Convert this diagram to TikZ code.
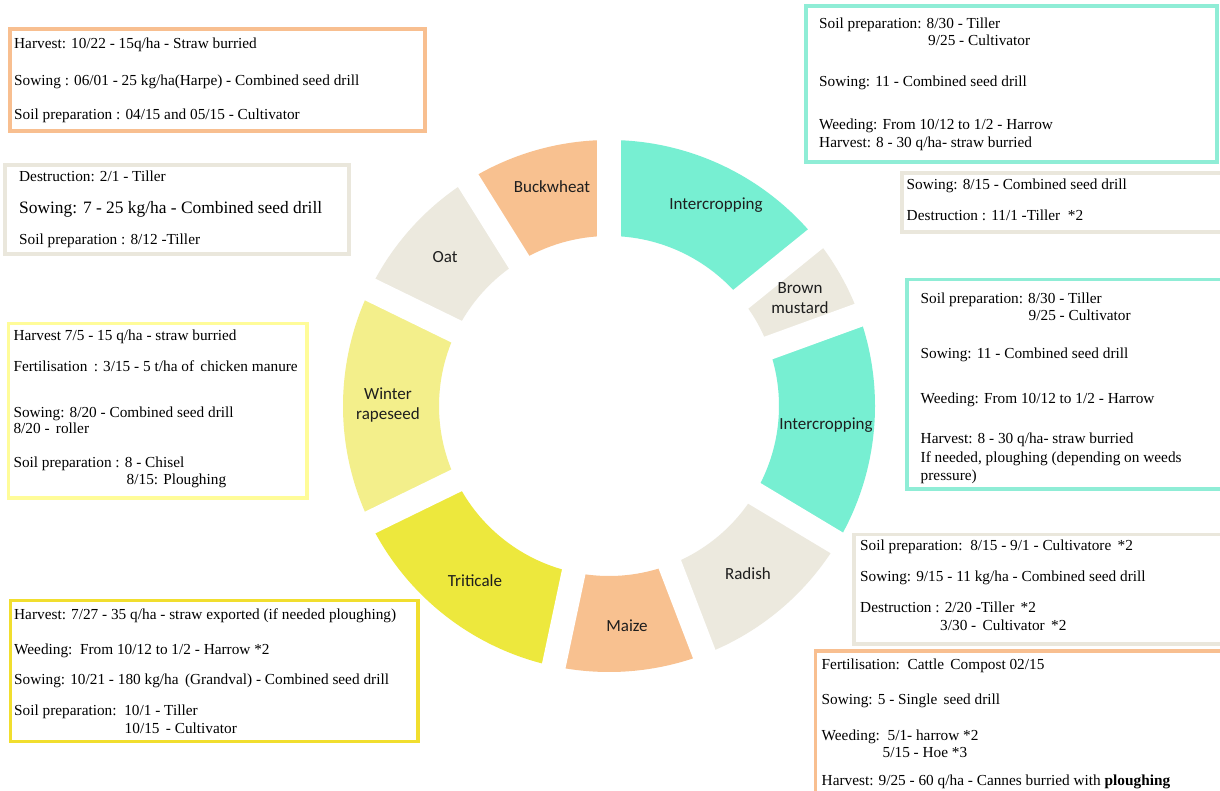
\documentclass[tikz,border=0pt]{standalone}
\usepackage{fontspec}
\setmainfont{Liberation Serif}
\newfontfamily\labelfont{Carlito}
\usetikzlibrary{calc}

% ring fills
\definecolor{ringTurq}{HTML}{77EFD2}
\definecolor{ringOrange}{HTML}{F8C190}
\definecolor{ringBeige}{HTML}{ECE9DE}
\definecolor{ringPale}{HTML}{F3EF8B}
\definecolor{ringYellow}{HTML}{EDE83D}
% box frames
\definecolor{frameOrange}{HTML}{F8BF90}
\definecolor{frameBeige}{HTML}{EAE7DC}
\definecolor{frameTurq}{HTML}{8FEDD6}
\definecolor{framePale}{HTML}{FFFC99}
\definecolor{frameYellow}{HTML}{F1DE2E}
\definecolor{labelInk}{HTML}{1E1E1E}

% one piece of the ring between two angles
\newcommand\ringpart[3]{%
  \fill[#3] ($(c)+(#1:266)$) arc[start angle=#1,end angle=#2,radius=266]
    -- ($(c)+(#2:170)$) arc[start angle=#2,end angle=#1,radius=170] -- cycle;}

\tikzset{
  seglabel/.style={font=\labelfont\fontsize{17}{20.5}\selectfont, text=labelInk, align=center, inner sep=0},
  info/.style={font=\fontsize{15.3}{18}\selectfont, anchor=base west, inner sep=0, text=black},
  infobig/.style={info, font=\fontsize{17.4}{20}\selectfont},
  infobox/.style={line width=3.2, fill=white},
}

\begin{document}
\begin{tikzpicture}[x=1pt,y=1pt]
\useasboundingbox (0,0) rectangle (1220,-791);
\clip (0,0) rectangle (1220,-791);
\fill[white] (0,0) rectangle (1220,-791);

% ---- crop rotation ring ----
\coordinate (c) at (609,-406);
\ringpart{39}{90}{ringTurq}
\ringpart{20}{39}{ringBeige}
\ringpart{-31}{20}{ringTurq}
\ringpart{-69}{-31}{ringBeige}
\ringpart{-102}{-69}{ringOrange}
\ringpart{-154}{-102}{ringYellow}
\ringpart{154}{206}{ringPale}
\ringpart{122}{154}{ringBeige}
\ringpart{90}{122}{ringOrange}
\foreach \a in {90,39,20,-31,-69,-102,-154,154,122}
  \draw[white, line width=24] (c) -- ++(\a:300);

\node[seglabel] (lbuck) at (552,-187) {Buckwheat};
\node[seglabel] (lint1) at (716,-205) {Intercropping};
\node[seglabel] (loat) at (445,-257) {Oat};
\node[seglabel] (lmust) at (800,-298) {Brown\\mustard};
\node[seglabel] (lint2) at (826,-425) {Intercropping};
\node[seglabel] (lrape) at (388,-405) {Winter\\rapeseed};
\node[seglabel] (ltrit) at (475,-581) {Triticale};
\node[seglabel] (lmaize) at (627,-626) {Maize};
\node[seglabel] (lrad) at (748,-574) {Radish};

% ---- Buckwheat ----
\draw[infobox, draw=frameOrange] (10,-29) rectangle (425,-131);
\node[info] (bkA) at (14,-48.3) {Harvest: 10/22 - 15q/ha - Straw burried};
\node[info] (bkB) at (14,-86) {Sowing : 06/01 - 25 kg/ha(Harpe) - Combined seed drill};
\node[info] (bkC) at (14,-120) {Soil preparation : 04/15 and 05/15 - Cultivator};

% ---- Oat ----
\draw[infobox, draw=frameBeige] (5,-165) rectangle (349,-254);
\node[info] (oaA) at (19,-181.7) {Destruction: 2/1 - Tiller};
\node[infobig] (oaB) at (19,-214) {Sowing: 7 - 25 kg/ha - Combined seed drill};
\node[info] (oaC) at (19,-245) {Soil preparation : 8/12 -Tiller};

% ---- Intercropping (top) ----
\draw[infobox, draw=frameTurq] (806,-6) rectangle (1217,-162);
\node[info] (i1A) at (819,-28.3) {Soil preparation: 8/30 - Tiller};
\node[info] (i1B) at (928,-45.7) {9/25 - Cultivator};
\node[info] (i1C) at (819,-86.7) {Sowing: 11 - Combined seed drill};
\node[info] (i1D) at (819,-130) {Weeding: From 10/12 to 1/2 - Harrow};
\node[info] (i1E) at (819,-147.7) {Harvest: 8 - 30 q/ha- straw burried};

% ---- Brown mustard ----
\draw[infobox, draw=frameBeige] (902,-173) rectangle (1230,-232);
\node[info] (muA) at (906.5,-189.3) {Sowing: 8/15 - Combined seed drill};
\node[info] (muB) at (906.5,-221) {Destruction : 11/1 -Tiller \ *2};

% ---- Intercropping (right) ----
\draw[infobox, draw=frameTurq] (907,-279.5) rectangle (1230,-489);
\node[info] (i2A) at (920.5,-303.5) {Soil preparation: 8/30 - Tiller};
\node[info] (i2B) at (1028.5,-320.5) {9/25 - Cultivator};
\node[info] (i2C) at (920.5,-358.5) {Sowing: 11 - Combined seed drill};
\node[info] (i2D) at (920.5,-403) {Weeding: From 10/12 to 1/2 - Harrow};
\node[info] (i2E) at (920.5,-443.5) {Harvest: 8 - 30 q/ha- straw burried};
\node[info] (i2F) at (920.5,-462) {If needed, ploughing (depending on weeds};
\node[info] (i2G) at (920.5,-480.5) {pressure)};

% ---- Winter rapeseed ----
\draw[infobox, draw=framePale] (8.5,-323.5) rectangle (307,-498);
\node[info] (rpA) at (13.3,-340.7) {Harvest 7/5 - 15 q/ha - straw burried};
\node[info] (rpB) at (13.3,-371.7) {Fertilisation \,: 3/15 - 5 t/ha of \,chicken manure};
\node[info] (rpC) at (13.3,-417.3) {Sowing: 8/20 - Combined seed drill};
\node[info] (rpD) at (13.3,-433.3) {8/20 - \,roller};
\node[info] (rpE) at (13.3,-467.3) {Soil preparation : 8 - Chisel};
\node[info] (rpF) at (126.5,-484.3) {8/15: Ploughing};

% ---- Triticale ----
\draw[infobox, draw=frameYellow] (10.5,-600.5) rectangle (418,-741.5);
\node[info] (trA) at (14,-619) {Harvest: 7/27 - 35 q/ha - straw exported (if needed ploughing)};
\node[info] (trB) at (14,-654.5) {Weeding: \,From 10/12 to 1/2 - Harrow *2};
\node[info] (trC) at (14,-684) {Sowing: 10/21 - 180 kg/ha \,(Grandval) - Combined seed drill};
\node[info] (trD) at (14,-715) {Soil preparation: \,10/1 - Tiller};
\node[info] (trE) at (124.5,-733.3) {10/15 \,- Cultivator};

% ---- Radish ----
\draw[infobox, draw=frameBeige] (854,-534.5) rectangle (1230,-644);
\node[info] (raA) at (860,-550) {Soil preparation: \,8/15 - 9/1 - Cultivatore \,*2};
\node[info] (raB) at (860,-581) {Sowing: 9/15 - 11 kg/ha - Combined seed drill};
\node[info] (raC) at (860,-612.7) {Destruction : 2/20 -Tiller \,*2};
\node[info] (raD) at (940,-630.7) {3/30 - \,Cultivator \,*2};

% ---- Maize ----
\draw[infobox, draw=frameOrange] (815.5,-651) rectangle (1230,-800);
\node[info] (mzA) at (821.5,-669) {Fertilisation: \,Cattle \,Compost 02/15};
\node[info] (mzB) at (821.5,-704.3) {Sowing: 5 - Single \,seed drill};
\node[info] (mzC) at (821.5,-740) {Weeding: \,5/1- harrow *2};
\node[info] (mzD) at (882.5,-757.7) {5/15 - Hoe *3};
\node[info] (mzE) at (821.5,-785.7) {Harvest: 9/25 - 60 q/ha - Cannes burried with \textbf{ploughing}};
\end{tikzpicture}
\end{document}
